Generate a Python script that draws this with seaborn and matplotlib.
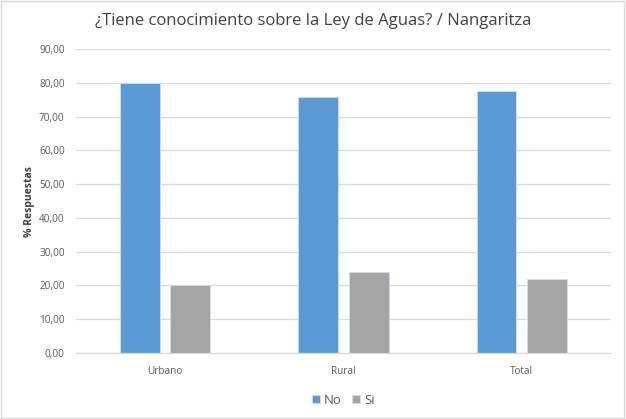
import matplotlib
matplotlib.use("Agg")
import matplotlib.pyplot as plt
import seaborn as sns
import pandas as pd
from matplotlib.ticker import FuncFormatter
from matplotlib.patches import Rectangle

categories = ["Urbano", "Rural", "Total"]
no_values = [79.8, 75.8, 77.7]
si_values = [20.2, 24.0, 22.0]
series = ["No", "Si"]
colors = {"No": "#5B9BD5", "Si": "#A5A5A5"}

df = pd.DataFrame({
    "cat": categories * 2,
    "serie": ["No"] * 3 + ["Si"] * 3,
    "val": no_values + si_values,
})

sns.set_theme(style="white")
plt.rcParams["font.family"] = ["Open Sans", "DejaVu Sans"]

fig = plt.figure(figsize=(6.26, 4.19), dpi=100)
ax = fig.add_axes([0.121, 0.1575, 0.855, 0.7255])

sns.barplot(data=df, x="cat", y="val", hue="serie", order=categories,
            hue_order=series, palette=colors, saturation=1, width=0.567, gap=0.21,
            edgecolor="#CFE0F2", linewidth=0.6, ax=ax, legend=True)

ax.set_ylim(0, 90)
ax.set_yticks(range(0, 91, 10))
ax.yaxis.set_major_formatter(FuncFormatter(lambda v, p: f"{v:.2f}".replace(".", ",")))
ax.grid(axis="y", color="#D9D9D9", linewidth=0.9)
ax.set_axisbelow(True)
for s in ["top", "right", "left"]:
    ax.spines[s].set_visible(False)
ax.spines["bottom"].set_color("#D9D9D9")
ax.spines["bottom"].set_linewidth(0.9)
ax.tick_params(axis="both", length=0, labelsize=7.2, colors="#595959", pad=8)
ax.tick_params(axis="x", pad=9)
ax.set_xlabel("")
ax.set_ylabel("% Respuestas", fontsize=7.5, fontweight="bold", color="#404040", labelpad=3)

fig.suptitle("¿Tiene conocimiento sobre la Ley de Aguas? / Nangaritza",
             fontsize=12, color="#404040", y=0.968)

ax.legend(loc="upper center", bbox_to_anchor=(0.5, -0.095), ncol=2, frameon=False,
          fontsize=9.5, handlelength=0.6, handleheight=0.6, handletextpad=0.3,
          columnspacing=0.8, labelcolor="#595959")

fig.patches.append(Rectangle((0.002, 0.003), 0.995, 0.994, transform=fig.transFigure,
                             fill=False, edgecolor="#D9D9D9", linewidth=1))

fig.savefig("out.png", dpi=100)
